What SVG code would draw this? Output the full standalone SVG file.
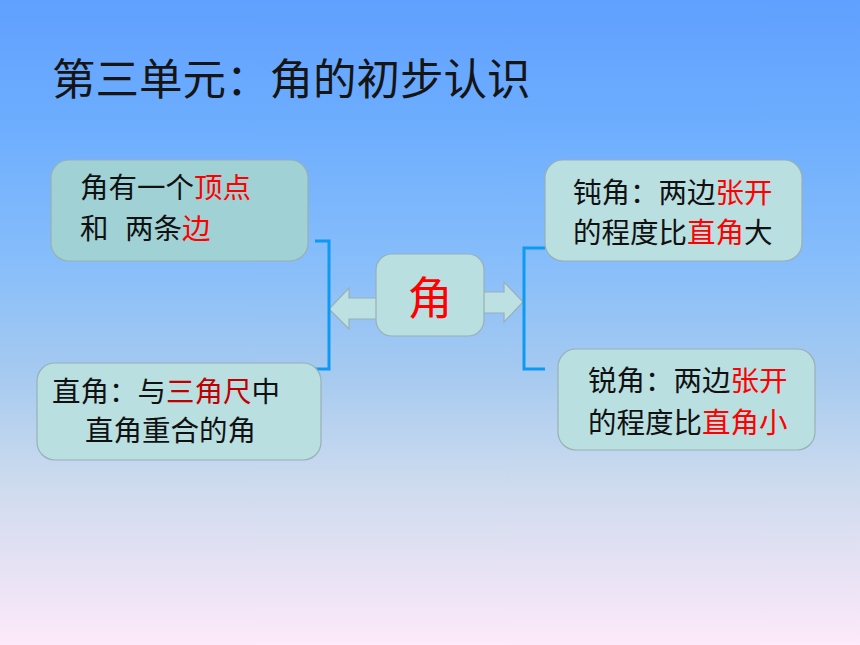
<svg xmlns="http://www.w3.org/2000/svg" width="860" height="645" viewBox="0 0 860 645">
<defs>
<linearGradient id="bg" x1="0" y1="0" x2="0" y2="1">
<stop offset="0" stop-color="#60a0ff"/>
<stop offset="0.2" stop-color="#6eaefe"/>
<stop offset="0.4" stop-color="#86bdfb"/>
<stop offset="0.58" stop-color="#a6caf0"/>
<stop offset="0.75" stop-color="#cddbee"/>
<stop offset="0.88" stop-color="#e6e2f4"/>
<stop offset="1" stop-color="#fdeafa"/>
</linearGradient>
<style>
.t{font-family:"Noto Sans CJK SC","Noto Sans CJK JP",sans-serif;font-size:28.5px;fill:#111}
.r{fill:#ff0000}
.dr{fill:#c00000}
.box{fill:#b9dfe1;stroke:#98b0b6;stroke-width:1.2}
.box1{fill:#a0d1d5;stroke:#98b0b6;stroke-width:1.2}
.arr{fill:#bde0e2;stroke:#98b0b8;stroke-width:1.2}
.br{fill:none;stroke:#0e9af2;stroke-width:3}
</style>
</defs>
<rect x="0" y="0" width="860" height="645" fill="url(#bg)"/>
<text x="52" y="95" style="font-family:'Noto Sans CJK SC',sans-serif;font-size:43.5px;fill:#151515">第三单元：角的初步认识</text>
<g id="connectors">
<path class="arr" d="M390,298 L349,298 L349,288 L329,309 L349,329 L349,319 L390,319 Z"/>
<path class="arr" d="M470,292 L504,292 L504,282 L523,302 L504,322 L504,313 L470,313 Z"/>
<path class="br" d="M315,241 L329,241 L329,369 L315,369"/>
<path class="br" d="M545,248 L524,248 L524,369 L545,369"/>
</g>
<g id="center">
<rect class="box" x="376" y="254" width="108" height="82" rx="16"/>
<text x="430" y="315" text-anchor="middle" style="font-family:'Noto Sans CJK SC',sans-serif;font-size:45px;fill:#ff0000">角</text>
</g>
<g id="node-vertex">
<rect class="box1" x="51" y="160" width="257" height="101" rx="18"/>
<text class="t" x="80" y="198">角有一个<tspan class="r">顶点</tspan></text>
<text class="t" x="80" y="239">和<tspan x="125">两条</tspan><tspan class="r">边</tspan></text>
</g>
<g id="node-right">
<rect class="box" x="37" y="363" width="284" height="97" rx="18"/>
<text class="t" x="52" y="402">直角：与<tspan class="dr">三角尺</tspan>中</text>
<text class="t" x="85" y="441">直角重合的角</text>
</g>
<g id="node-obtuse">
<rect class="box" x="545" y="160" width="257" height="101" rx="18"/>
<text class="t" x="573" y="203">钝角：两边<tspan class="r">张开</tspan></text>
<text class="t" x="573" y="243">的程度比<tspan class="r">直角</tspan>大</text>
</g>
<g id="node-acute">
<rect class="box" x="558" y="349" width="257" height="101" rx="18"/>
<text class="t" x="588" y="391">锐角：两边<tspan class="r">张开</tspan></text>
<text class="t" x="588" y="433">的程度比<tspan class="r">直角小</tspan></text>
</g>
</svg>
